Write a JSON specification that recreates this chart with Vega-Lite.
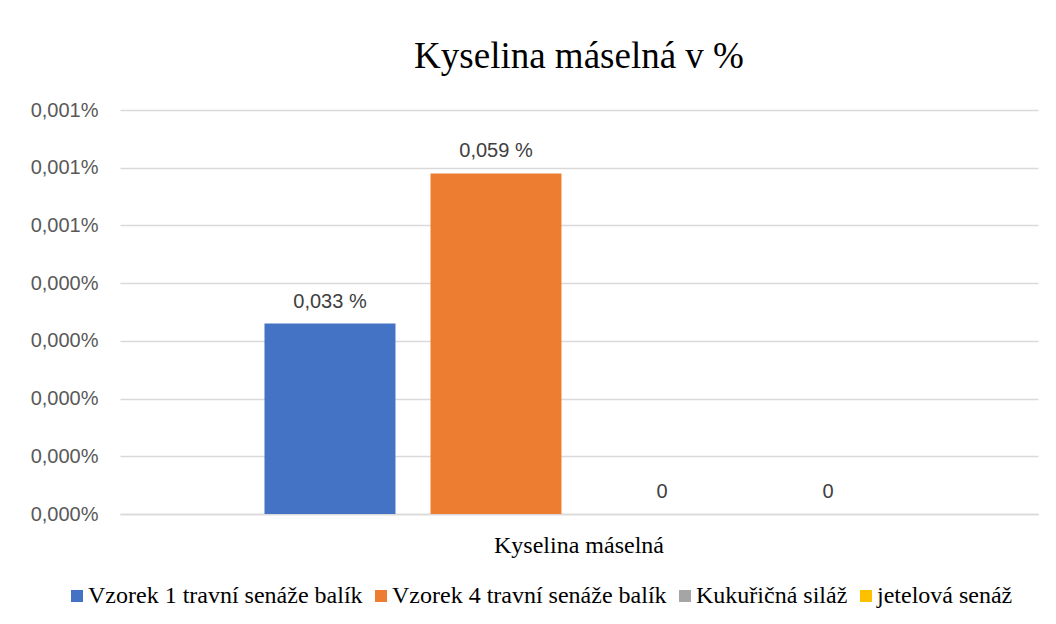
{
  "$schema": "https://vega.github.io/schema/vega-lite/v6.json",
  "width": 918,
  "height": 404,
  "autosize": {"type": "none"},
  "padding": {"left": 120, "top": 110, "right": 18, "bottom": 110},
  "background": "white",
  "config": {
    "view": {"stroke": null},
    "axis": {"labelFont": "Liberation Serif"},
    "axisX": {"labelFont": "Liberation Serif", "labelFontSize": 24, "labelColor": "#000000"},
    "axisBand": {"labelFont": "Liberation Serif"}
  },
  "title": {
    "text": "Kyselina máselná v %",
    "font": "Liberation Serif",
    "fontSize": 37,
    "fontWeight": "normal",
    "color": "#000000",
    "anchor": "middle",
    "offset": 24
  },
  "data": {
    "values": [
      {"kategorie": "Kyselina máselná", "vzorek": "Vzorek 1 travní senáže balík", "hodnota": 0.033, "popisek": "0,033 %"},
      {"kategorie": "Kyselina máselná", "vzorek": "Vzorek 4 travní senáže balík", "hodnota": 0.059, "popisek": "0,059 %"},
      {"kategorie": "Kyselina máselná", "vzorek": "Kukuřičná siláž", "hodnota": 0, "popisek": "0"},
      {"kategorie": "Kyselina máselná", "vzorek": "jetelová senáž", "hodnota": 0, "popisek": "0"}
    ]
  },
  "encoding": {
    "x": {
      "field": "kategorie",
      "type": "nominal",
      "scale": {"paddingInner": 0, "paddingOuter": 0.2297},
      "axis": {
        "title": null,
        "labelAngle": 0,
        "labelFont": "Liberation Serif",
        "labelFontSize": 24,
        "labelColor": "#000000",
        "labelPadding": 19,
        "ticks": false,
        "domain": true,
        "domainColor": "#d9d9d9",
        "domainWidth": 1.5
      }
    },
    "xOffset": {
      "field": "vzorek",
      "type": "nominal",
      "sort": ["Vzorek 1 travní senáže balík", "Vzorek 4 travní senáže balík", "Kukuřičná siláž", "jetelová senáž"],
      "scale": {"paddingInner": 0.211, "paddingOuter": 0}
    },
    "y": {
      "field": "hodnota",
      "type": "quantitative",
      "scale": {"domain": [0, 0.07], "nice": false},
      "axis": {
        "title": null,
        "values": [0, 0.01, 0.02, 0.03, 0.04, 0.05, 0.06, 0.07],
        "labelExpr": "datum.value >= 0.045 ? '0,001%' : '0,000%'",
        "labelFont": "Liberation Sans",
        "labelFontSize": 20,
        "labelColor": "#595959",
        "labelPadding": 22,
        "domain": false,
        "ticks": false,
        "grid": true,
        "gridColor": "#d9d9d9",
        "gridWidth": 1.5
      }
    }
  },
  "layer": [
    {
      "mark": {"type": "bar"},
      "encoding": {
        "color": {
          "field": "vzorek",
          "type": "nominal",
          "sort": ["Vzorek 1 travní senáže balík", "Vzorek 4 travní senáže balík", "Kukuřičná siláž", "jetelová senáž"],
          "scale": {
            "domain": ["Vzorek 1 travní senáže balík", "Vzorek 4 travní senáže balík", "Kukuřičná siláž", "jetelová senáž"],
            "range": ["#4472C4", "#ED7D31", "#A5A5A5", "#FFC000"]
          },
          "legend": {
            "title": null,
            "orient": "none",
            "legendX": -55,
            "legendY": 474,
            "direction": "horizontal",
            "labelFont": "Liberation Serif",
            "labelFontSize": 24,
            "labelColor": "#000000",
            "labelLimit": 0,
            "symbolType": "square",
            "symbolSize": 144,
            "symbolStrokeWidth": 0,
            "symbolOpacity": 1,
            "labelOffset": -1,
            "columnPadding": 6
          }
        }
      }
    },
    {
      "mark": {"type": "text", "dy": -22, "font": "Liberation Sans", "fontSize": 20, "color": "#404040", "baseline": "middle"},
      "encoding": {"text": {"field": "popisek"}}
    }
  ]
}
